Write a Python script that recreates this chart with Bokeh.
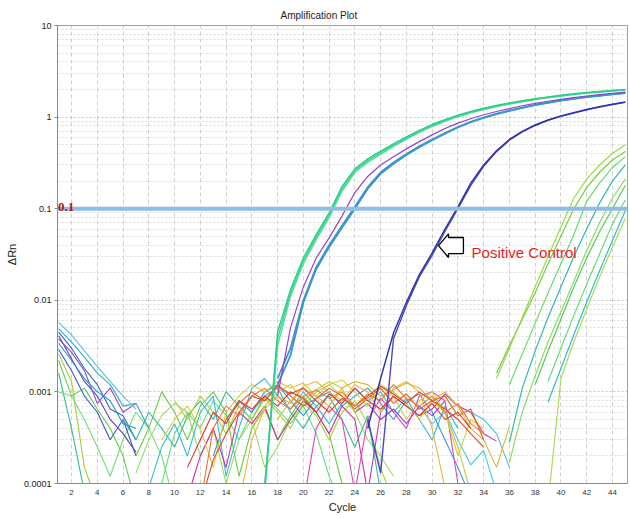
from bokeh.plotting import figure
from bokeh.models import FixedTicker, Label, PolyAnnotation, Span
from bokeh.embed import file_html
from bokeh.resources import INLINE

# ---------------- texts / ticks ----------------
TITLE = "Amplification Plot"
X_LABEL = "Cycle"
Y_LABEL = "ΔRn"
x_ticks = list(range(2, 46, 2))
y_ticks = [0.0001, 0.001, 0.01, 0.1, 1, 10]
y_tick_labels = ["0.0001", "0.001", "0.01", "0.1", "1", "10"]
threshold = 0.1
threshold_text = "0.1"
callout_text = "Positive Control"

# ---------------- data: ΔRn per cycle, starting at the given cycle ----------------
# early decaying baseline traces (start at cycle 1)
early_cyan = [5.7e-3, 4.2e-3, 2.8e-3, 1.9e-3, 1.3e-3, 9.0e-4, 6.5e-4]
early_teal = [4.9e-3, 3.5e-3, 2.4e-3, 1.6e-3, 1.2e-3, 7.0e-4, 7.5e-4, 4.0e-4]
early_blue = [4.5e-3, 3.0e-3, 1.8e-3, 1.2e-3, 6.5e-4, 5.5e-4, 3.0e-4]
early_indigo = [4.1e-3, 2.3e-3, 1.3e-3, 9.0e-4, 5.0e-4, 3.5e-4, 2.2e-4]
early_purple = [3.8e-3, 2.7e-3, 1.7e-3, 7.5e-4, 1.1e-3, 6.0e-4, 7.5e-4]
early_blue2 = [2.9e-3, 1.7e-3, 9.0e-4, 6.0e-4, 3.0e-4, 5.0e-4, 2.0e-4]
early_steel = [3.4e-3, 2.2e-3, 1.4e-3, 1.0e-3, 8.0e-4, 4.5e-4, 4.0e-4]
early_green_a = [2.2e-3, 9.0e-4, 1.1e-3, 6.5e-4, 4.0e-4, 2.0e-4, 6e-5]
early_green_b = [2.6e-3, 1.3e-3, 1.5e-4, 6e-5]
early_green_c = [1.6e-3, 4.0e-4, 8e-5]
early_green_d = [1.0e-3, 9.0e-4, 5.0e-4, 2.5e-4, 1.2e-4, 3.0e-4, 6.0e-4, 4.0e-4, 2.0e-4, 6e-5]

# baseline noise traces
noise_red_start = 11
noise_red = [1.5e-4, 3.0e-4, 6.0e-4, 4.5e-4, 8.0e-4, 6.5e-4, 9.0e-4, 7.0e-4, 1.0e-3, 8.5e-4, 6.0e-4,
             9.5e-4, 7.5e-4, 1.1e-3, 8.0e-4, 6.5e-4, 9.0e-4, 7.0e-4, 5.5e-4, 7.5e-4, 5.0e-4, 6.0e-4, 4.0e-4]
noise_orange_start = 12
noise_orange = [6e-5, 4.0e-4, 7.0e-4, 5.5e-4, 9.0e-4, 1.1e-3, 8.0e-4, 6.5e-4, 9.0e-4, 1.05e-3, 8.5e-4,
                1.0e-3, 7.0e-4, 9.5e-4, 8.0e-4, 1.2e-3, 8.5e-4, 7.0e-4, 9.0e-4, 6.0e-4, 7.5e-4, 4.5e-4, 3.5e-4]
noise_rust_start = 14
noise_rust = [5.0e-4, 7.5e-4, 1.0e-3, 8.0e-4, 1.2e-3, 9.0e-4, 7.0e-4, 8.5e-4, 1.1e-3, 9.0e-4, 6.5e-4,
              8.5e-4, 1.1e-3, 7.5e-4, 9.5e-4, 6.5e-4, 8.0e-4, 9.0e-4, 5.5e-4, 6.5e-4, 3.0e-4]
noise_yellow_start = 9
noise_yellow = [3.0e-4, 5.0e-4, 7.0e-4, 4.0e-4, 1.5e-4, 6.0e-4, 9.0e-4, 1.2e-3, 1.0e-3, 1.3e-3, 1.1e-3,
                1.25e-3, 9.0e-4, 1.2e-3, 1.35e-3, 1.0e-3, 7.0e-4, 1.15e-3, 9.0e-4, 5.0e-4, 8.0e-4,
                1.0e-3, 6.0e-4, 2.0e-4, 5.0e-4, 4.0e-4]
noise_amber_start = 15
noise_amber = [6e-5, 3.0e-4, 6.5e-4, 9.0e-4, 7.5e-4, 1.15e-3, 1.3e-3, 1.0e-3, 8.0e-4, 1.2e-3, 1.0e-3,
               6.0e-4, 1.1e-3, 1.3e-3, 1.0e-3, 4.0e-4, 9e-5]
noise_olive_start = 16
noise_olive = [4.0e-4, 7.0e-4, 1.0e-3, 1.2e-3, 8.0e-4, 1.05e-3, 1.3e-3, 1.1e-3, 6.0e-4, 9.0e-4, 1.2e-3,
               1.0e-3, 7.5e-4, 5.0e-4, 8.0e-4, 6.0e-4, 2.5e-4, 8e-5]
noise_lime_start = 10
noise_lime = [8.0e-4, 5.0e-4, 9.0e-4, 6.0e-4, 3.5e-4, 7.0e-4, 5.0e-4, 8.5e-4, 6.0e-4, 4.0e-4, 7.5e-4,
              5.5e-4, 3.0e-4, 6.0e-4, 8.0e-4, 4.5e-4, 1.5e-4, 6e-5]
noise_green_start = 7
noise_green = [2.0e-4, 4.0e-4, 1.0e-3, 6.0e-4, 3.0e-4, 7.0e-4, 1.0e-3, 6.0e-4, 1.2e-4, 4.0e-4, 6.5e-4,
               3.0e-4, 5.5e-4, 9.0e-4, 6.0e-4, 3.5e-4, 1.0e-4, 6e-5]
noise_spring_start = 9
noise_spring = [1.0e-4, 3.5e-4, 6.0e-4, 4.0e-4, 8.0e-4, 5.5e-4, 3.0e-4, 6.0e-4, 9.0e-4, 6.5e-4, 4.5e-4,
                7.0e-4, 3.5e-4, 1.2e-4, 6e-5]
noise_teal_start = 6
noise_teal = [5.0e-4, 3.0e-4, 6.0e-4, 4.0e-4, 2.5e-4, 5.5e-4, 8.0e-4, 5.0e-4, 1.0e-3, 7.0e-4, 5.0e-4,
              9.0e-4, 1.1e-3, 6.0e-4, 4.0e-4, 7.0e-4, 9.0e-4, 5.0e-4, 2.5e-4, 5.5e-4, 8e-5]
noise_cyan_start = 8
noise_cyan = [9e-5, 2.5e-4, 4.5e-4, 2.0e-4, 6.0e-4, 9.0e-4, 1.2e-4, 4.0e-4, 1.1e-3, 1.4e-3, 9.0e-4,
              6.5e-4, 1.0e-3, 7.0e-4, 4.5e-4, 7.5e-4, 1.1e-3, 8.0e-4, 1.0e-3, 6.0e-4, 8.5e-4, 5.0e-4,
              3.0e-4, 7.0e-4, 4.0e-4]
noise_sky_start = 13
noise_sky = [2.0e-4, 5.0e-4, 8.0e-4, 6.0e-4, 1.0e-3, 1.2e-3, 8.0e-4, 5.5e-4, 8.5e-4, 1.0e-3, 7.0e-4,
             9.0e-4, 1.1e-3, 7.5e-4, 5.0e-4, 8.0e-4, 9.5e-4, 6.0e-4, 3.0e-4, 1.5e-4, 7e-5]
noise_magenta_start = 11
noise_magenta = [7e-5, 2.0e-4, 4.0e-4, 1.5e-4, 6.0e-4, 4.5e-4, 7.0e-4, 3.0e-4, 5.0e-4, 8.0e-4, 6.0e-4,
                 3.5e-4, 7.0e-4, 5.0e-4, 8e-5, 6.0e-4, 9.0e-4, 7.0e-4, 5.5e-4, 6.5e-4, 9.5e-4, 7.0e-4,
                 6.0e-4, 3.5e-4, 2.9e-4]
noise_pink_start = 20
noise_pink = [6e-5, 4.0e-4, 7.0e-4, 5.0e-4, 8e-5, 5.0e-4, 8.5e-4, 6.0e-4, 4.0e-4, 9.0e-4, 1.0e-3,
              8.0e-4, 1.0e-4, 6e-5]
noise_violet_start = 24
noise_violet = [6.0e-4, 7.5e-4, 5.0e-4, 6.5e-4, 4.5e-4, 7.0e-4, 5.5e-4, 8.0e-4]
noise_mint_start = 7
noise_mint = [1.3e-4, 3.0e-4, 5.5e-4, 7.5e-4, 6.0e-4, 2.0e-4, 4.0e-4, 1.0e-4, 3.0e-4, 5.0e-4, 1.5e-4,
              2.5e-4, 5.0e-4, 7.0e-4, 1.0e-3, 1.2e-3, 9.0e-4, 6.0e-4, 3.0e-4, 2.0e-4, 1.2e-4]
noise_gold_start = 18
noise_gold = [5.0e-4, 8.0e-4, 1.1e-3, 9.0e-4, 7.0e-4, 1.1e-3, 1.3e-3, 1.2e-3, 9.0e-4, 1.05e-3, 1.25e-3,
              1.1e-3, 8.0e-4, 1.0e-3, 7.0e-4, 4.0e-4, 3.0e-4, 1.5e-4, 4.2e-4]
noise_aqua_start = 29
noise_aqua = [7.0e-4, 4.5e-4, 6.0e-4, 3.0e-4, 1.6e-4, 2.3e-4, 8e-5]
noise_aqua2_start = 33
noise_aqua2 = [6.0e-4, 5.0e-4, 3.5e-4, 1.5e-4]
noise_scarlet_start = 12
noise_scarlet = [6e-5, 1.8e-4, 3.5e-4, 6.0e-4, 9.0e-4, 8.0e-4, 1.15e-3, 9.5e-4, 1.1e-3, 8.0e-4, 6.0e-4,
                 8.5e-4, 7.0e-4, 9.0e-4, 1.15e-3, 9.5e-4, 7.5e-4, 1.0e-3, 8.0e-4, 6.5e-4, 5.0e-4,
                 3.5e-4, 2.5e-4]

# early amplifying wells (Ct ~ 22-24)
amp_green_start = 17
amp_green_1 = [8e-5, 4.5e-3, 0.013, 0.029, 0.052, 0.090, 0.175, 0.272, 0.35, 0.425, 0.51, 0.61, 0.715,
               0.83, 0.94, 1.05, 1.15, 1.25, 1.34, 1.43, 1.51, 1.59, 1.66, 1.73, 1.80, 1.86, 1.91, 1.96, 2.01]
amp_green_2 = [1e-4, 3.8e-3, 0.012, 0.027, 0.049, 0.085, 0.165, 0.26, 0.335, 0.41, 0.495, 0.59, 0.695,
               0.81, 0.92, 1.03, 1.13, 1.23, 1.32, 1.41, 1.49, 1.57, 1.64, 1.71, 1.78, 1.84, 1.89, 1.94, 1.99]
amp_green_3 = [9e-5, 3.2e-3, 0.011, 0.025, 0.046, 0.080, 0.155, 0.25, 0.32, 0.395, 0.48, 0.575, 0.68,
               0.79, 0.90, 1.01, 1.11, 1.21, 1.30, 1.39, 1.47, 1.55, 1.62, 1.69, 1.76, 1.82, 1.87, 1.92, 1.97]
amp_purple_start = 18
amp_purple = [9e-4, 5.0e-3, 0.014, 0.029, 0.048, 0.083, 0.15, 0.225, 0.30, 0.37, 0.45, 0.54, 0.64, 0.75,
              0.86, 0.96, 1.06, 1.15, 1.24, 1.33, 1.41, 1.49, 1.56, 1.63, 1.70, 1.76, 1.82, 1.87]
amp_blue_start = 18
amp_blue_1 = [1.2e-3, 2.5e-3, 9.5e-3, 0.022, 0.038, 0.062, 0.10, 0.165, 0.24, 0.31, 0.385, 0.47, 0.56,
              0.66, 0.77, 0.88, 0.98, 1.08, 1.17, 1.26, 1.35, 1.43, 1.51, 1.58, 1.65, 1.71, 1.77, 1.83]
amp_blue_2 = [1.4e-3, 3.0e-3, 0.010, 0.023, 0.040, 0.065, 0.105, 0.172, 0.25, 0.32, 0.395, 0.48, 0.57,
              0.67, 0.78, 0.89, 0.99, 1.09, 1.18, 1.27, 1.36, 1.44, 1.52, 1.59, 1.66, 1.72, 1.78, 1.84]

# positive control (Ct ~ 31.7)
pos_start = 25
pos_ctrl_1 = [4.0e-4, 1.4e-3, 4.4e-3, 9.5e-3, 0.019, 0.033, 0.060, 0.105, 0.19, 0.30, 0.43, 0.57, 0.70,
              0.82, 0.93, 1.03, 1.12, 1.21, 1.30, 1.38, 1.46]
pos_ctrl_2 = [5.0e-4, 1.3e-4, 3.8e-3, 8.8e-3, 0.018, 0.031, 0.057, 0.10, 0.18, 0.29, 0.42, 0.56, 0.69,
              0.81, 0.92, 1.02, 1.11, 1.20, 1.29, 1.37, 1.45]

# late amplifying wells (Ct ~ 40-45)
late_1_start = 35
late_1 = [1.4e-3, 3.0e-3, 6.5e-3, 0.014, 0.030, 0.063, 0.13, 0.21, 0.30, 0.40, 0.50]
late_2_start = 35
late_2 = [1.6e-3, 3.2e-3, 6.2e-3, 0.012, 0.025, 0.050, 0.10, 0.17, 0.25, 0.34, 0.42]
late_3_start = 36
late_3 = [1.2e-3, 2.6e-3, 5.6e-3, 0.012, 0.025, 0.052, 0.12, 0.19, 0.28, 0.37]
late_4_start = 36
late_4 = [2.8e-4, 1.1e-3, 2.8e-3, 6.5e-3, 0.014, 0.030, 0.060, 0.115, 0.20, 0.30]
late_5_start = 36
late_5 = [1.7e-4, 6.0e-4, 1.5e-3, 3.5e-3, 7.5e-3, 0.016, 0.035, 0.070, 0.13, 0.21]
late_6_start = 38
late_6 = [1.2e-3, 2.8e-3, 6.2e-3, 0.014, 0.029, 0.056, 0.10, 0.18]
late_7_start = 39
late_7 = [1.3e-3, 3.0e-3, 6.8e-3, 0.015, 0.032, 0.068, 0.125]
late_8_start = 39
late_8 = [7.7e-4, 1.8e-3, 4.2e-3, 9.5e-3, 0.021, 0.045, 0.095]
late_9_start = 39
late_9 = [6e-5, 1.4e-3, 3.5e-3, 8.0e-3, 0.018, 0.038, 0.078]

# ---------------- figure ----------------
SANS = "Liberation Sans, Arial, sans-serif"

p = figure(width=630, height=518, x_range=(0.91, 45.17), y_range=(1e-4, 10),
           y_axis_type="log", output_backend="svg", toolbar_location=None,
           min_border_left=57, min_border_right=3, min_border_top=25, min_border_bottom=35)
p.background_fill_color = "white"
p.border_fill_color = "white"
p.outline_line_color = "#a0a0a0"
p.outline_line_width = 1

p.title.text = TITLE
p.title.align = "left"
p.title.offset = 223
p.title.text_font = SANS
p.title.text_font_size = "10px"
p.title.text_font_style = "normal"
p.title.text_color = "#222222"
p.title.standoff = 10

# axes
p.xaxis.ticker = FixedTicker(ticks=x_ticks)
p.xaxis.major_tick_out = 0
p.xaxis.major_tick_in = 0
p.xaxis.minor_tick_line_color = None
p.xaxis.axis_line_color = "#8a8a8a"
p.xaxis.major_label_standoff = 6
p.xaxis.major_label_text_font = SANS
p.xaxis.major_label_text_font_size = "8px"
p.xaxis.major_label_text_color = "#333333"
p.xaxis.axis_label = X_LABEL
p.xaxis.axis_label_text_font = SANS
p.xaxis.axis_label_text_font_size = "11px"
p.xaxis.axis_label_text_font_style = "normal"
p.xaxis.axis_label_text_color = "#222222"
p.xaxis.axis_label_standoff = 3

minor_vals = [k * 10.0 ** e for e in range(-4, 1) for k in range(2, 10)]
p.yaxis.ticker = FixedTicker(ticks=y_ticks, minor_ticks=minor_vals)
p.yaxis.major_label_overrides = dict(zip(y_ticks, y_tick_labels))
p.yaxis.major_tick_out = 3
p.yaxis.major_tick_in = 0
p.yaxis.major_tick_line_color = "#8a8a8a"
p.yaxis.minor_tick_line_color = None
p.yaxis.axis_line_color = "#8a8a8a"
p.yaxis.major_label_standoff = 2
p.yaxis.major_label_text_font = SANS
p.yaxis.major_label_text_font_size = "9px"
p.yaxis.major_label_text_color = "#222222"
p.yaxis.axis_label = Y_LABEL
p.yaxis.axis_label_text_font = SANS
p.yaxis.axis_label_text_font_size = "11px"
p.yaxis.axis_label_text_font_style = "normal"
p.yaxis.axis_label_text_color = "#222222"
p.yaxis.axis_label_standoff = 3

# grids
p.xgrid.grid_line_color = "#cfcfcf"
p.xgrid.grid_line_dash = "4 3"
p.ygrid.grid_line_color = "#c8c8c8"
p.ygrid.grid_line_dash = "2 2"
p.ygrid.minor_grid_line_color = "#dcdcdc"
p.ygrid.minor_grid_line_dash = "2 2"


def draw(start, vals, color, width=1.1):
    xs = list(range(start, start + len(vals)))
    p.line(xs, vals, line_color=color, line_width=width)


# early decays
draw(1, early_green_b, "#a6cc33")
draw(1, early_green_c, "#33bb88")
draw(1, early_green_a, "#66cc55")
draw(1, early_green_d, "#77dd77")
draw(1, early_blue2, "#4455cc")
draw(1, early_indigo, "#5544bb")
draw(1, early_purple, "#9944cc")
draw(1, early_blue, "#3366cc")
draw(1, early_steel, "#2299bb")
draw(1, early_teal, "#33aacc")
draw(1, early_cyan, "#55c4e0")

# baseline noise
draw(noise_mint_start, noise_mint, "#99dd66")
draw(noise_spring_start, noise_spring, "#66dd88")
draw(noise_green_start, noise_green, "#66cc44")
draw(noise_teal_start, noise_teal, "#33bb99")
draw(noise_lime_start, noise_lime, "#aad433")
draw(noise_cyan_start, noise_cyan, "#33bbdd")
draw(noise_sky_start, noise_sky, "#3399dd")
draw(noise_aqua_start, noise_aqua, "#44ccdd")
draw(noise_aqua2_start, noise_aqua2, "#44c4e4")
draw(noise_violet_start, noise_violet, "#8844cc")
draw(noise_magenta_start, noise_magenta, "#cc3399")
draw(noise_pink_start, noise_pink, "#dd44bb")
draw(noise_yellow_start, noise_yellow, "#ddcc33")
draw(noise_olive_start, noise_olive, "#c8c840")
draw(noise_amber_start, noise_amber, "#e6b840")
draw(noise_gold_start, noise_gold, "#d9b52e")
draw(noise_red_start, noise_red, "#dd3333")
draw(noise_scarlet_start, noise_scarlet, "#e04422")
draw(noise_rust_start, noise_rust, "#e0602a")
draw(noise_orange_start, noise_orange, "#ee7733")

# late wells
draw(late_9_start, late_9, "#aadd55", 1.2)
draw(late_8_start, late_8, "#33bbcc", 1.2)
draw(late_7_start, late_7, "#66dd77", 1.2)
draw(late_6_start, late_6, "#55cc55", 1.2)
draw(late_5_start, late_5, "#88dd66", 1.2)
draw(late_4_start, late_4, "#33bbaa", 1.2)
draw(late_3_start, late_3, "#66dd66", 1.2)
draw(late_2_start, late_2, "#77cc44", 1.2)
draw(late_1_start, late_1, "#99dd44", 1.2)

# positive control
draw(pos_start, pos_ctrl_2, "#4848c8", 1.4)
draw(pos_start, pos_ctrl_1, "#3030a8", 1.4)

# early amplifying wells
draw(amp_blue_start, amp_blue_2, "#4a8fd0", 1.8)
draw(amp_blue_start, amp_blue_1, "#3399cc", 1.8)
draw(amp_purple_start, amp_purple, "#9a40c8", 1.2)
draw(amp_green_start, amp_green_3, "#55dd99", 1.4)
draw(amp_green_start, amp_green_2, "#3dd68f", 1.4)
draw(amp_green_start, amp_green_1, "#2ecc8a", 1.4)

# threshold
p.add_layout(Span(location=threshold, dimension="width", line_color="#8fbde6", line_width=4))
p.add_layout(Label(x=0.95, y=0.104, text=threshold_text, text_color="#b01515",
                   text_font="Liberation Serif, DejaVu Serif, serif", text_font_style="bold",
                   text_font_size="13px", text_align="left", text_baseline="alphabetic"))

# callout arrow pointing at the positive control
tip_x, tip_y = 30.49, 0.0396
head_x, tail_x = 31.27, 32.43
head_top, head_bot = 0.0532, 0.0293
body_top, body_bot = 0.0485, 0.0324
p.add_layout(PolyAnnotation(
    xs=[tip_x, head_x, head_x, tail_x, tail_x, head_x, head_x],
    ys=[tip_y, head_top, body_top, body_top, body_bot, body_bot, head_bot],
    xs_units="data", ys_units="data",
    fill_color="white", fill_alpha=1.0, line_color="black", line_alpha=1.0, line_width=1.3))
p.add_layout(Label(x=33.06, y=0.0335, text=callout_text, text_color="#ee1c1c",
                   text_font=SANS, text_font_size="15px",
                   text_align="left", text_baseline="alphabetic"))

open("out.html", "w").write(file_html(p, INLINE))
